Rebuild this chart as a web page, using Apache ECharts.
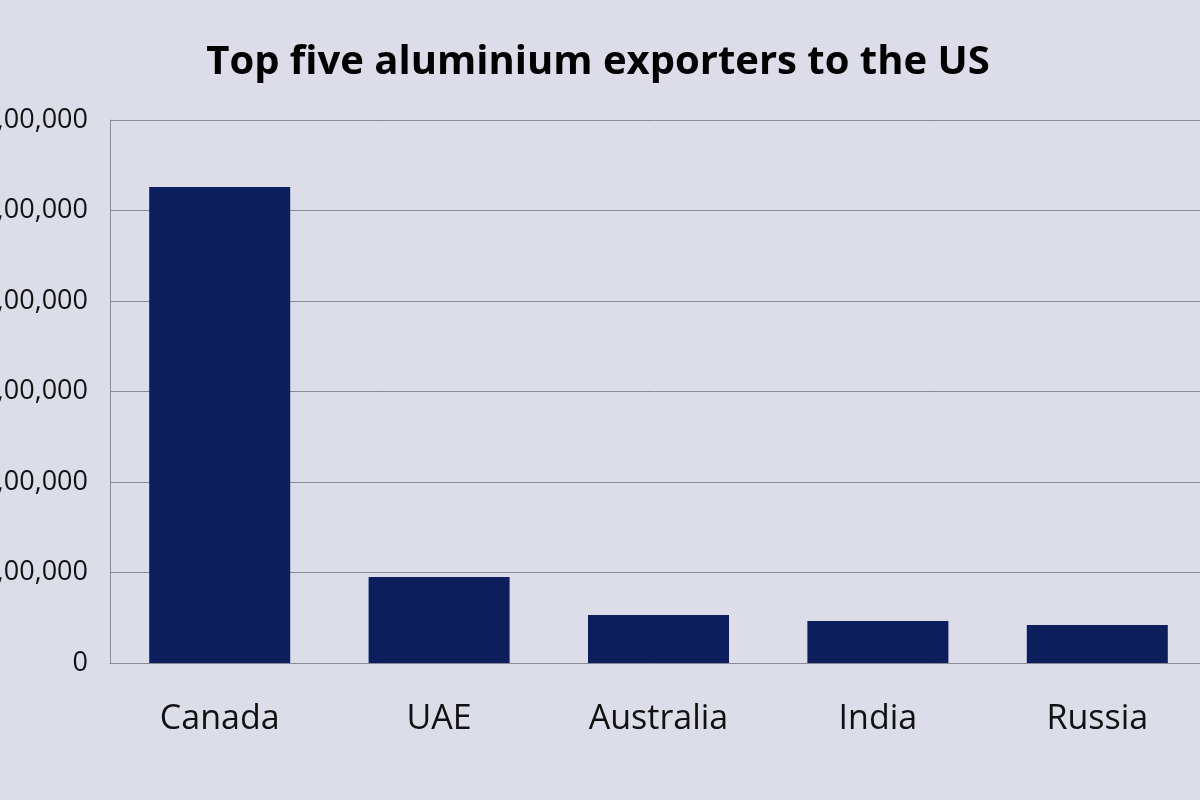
<!DOCTYPE html>
<html><head><meta charset="utf-8">
<script src="https://cdn.jsdelivr.net/npm/echarts@6/dist/echarts.min.js"></script>
<style>html,body{margin:0;padding:0;background:#dcdde8;}#c{width:1200px;height:800px;}</style>
</head><body><div id="c"></div>
<script>
const categories = ['Canada','UAE','Australia','India','Russia'];
const exportsValues = [2630000, 475000, 265000, 232000, 210000];
function indian(v){
  if(v===0) return '0';
  const s=String(v); const last3=s.slice(-3); let rest=s.slice(0,-3);
  rest=rest.replace(/\B(?=(\d{2})+(?!\d))/g, ',');
  return rest+','+last3;
}
const chart = echarts.init(document.getElementById('c'));
chart.setOption({
  backgroundColor: '#dcdde8',
  title: {text: 'Top five aluminium exporters to the US', left: 593, top: 38, textAlign: 'center',
    textStyle: {fontFamily: 'Open Sans', fontWeight: 'bold', fontSize: 40, color: '#000'}},
  grid: {left: 110, right: -7, top: 120, bottom: 137, containLabel: false, outerBoundsMode: 'none'},
  xAxis: {type: 'category', data: categories,
    axisLine: {lineStyle: {color: '#8a8a95'}}, axisTick: {show: false},
    axisLabel: {fontFamily: 'Open Sans', fontSize: 34, color: '#111', margin: 39}},
  yAxis: {type: 'value', min: 0, max: 3000000, interval: 500000,
    axisLine: {show: true, lineStyle: {color: '#8a8a95'}},
    splitLine: {lineStyle: {color: '#8a8a95'}},
    axisLabel: {fontFamily: 'Open Sans', fontSize: 27, color: '#111', margin: 22, formatter: indian}},
  series: [{type: 'bar', data: exportsValues, barWidth: 141, itemStyle: {color: '#0c1f5c'}}]
});
</script></body></html>
